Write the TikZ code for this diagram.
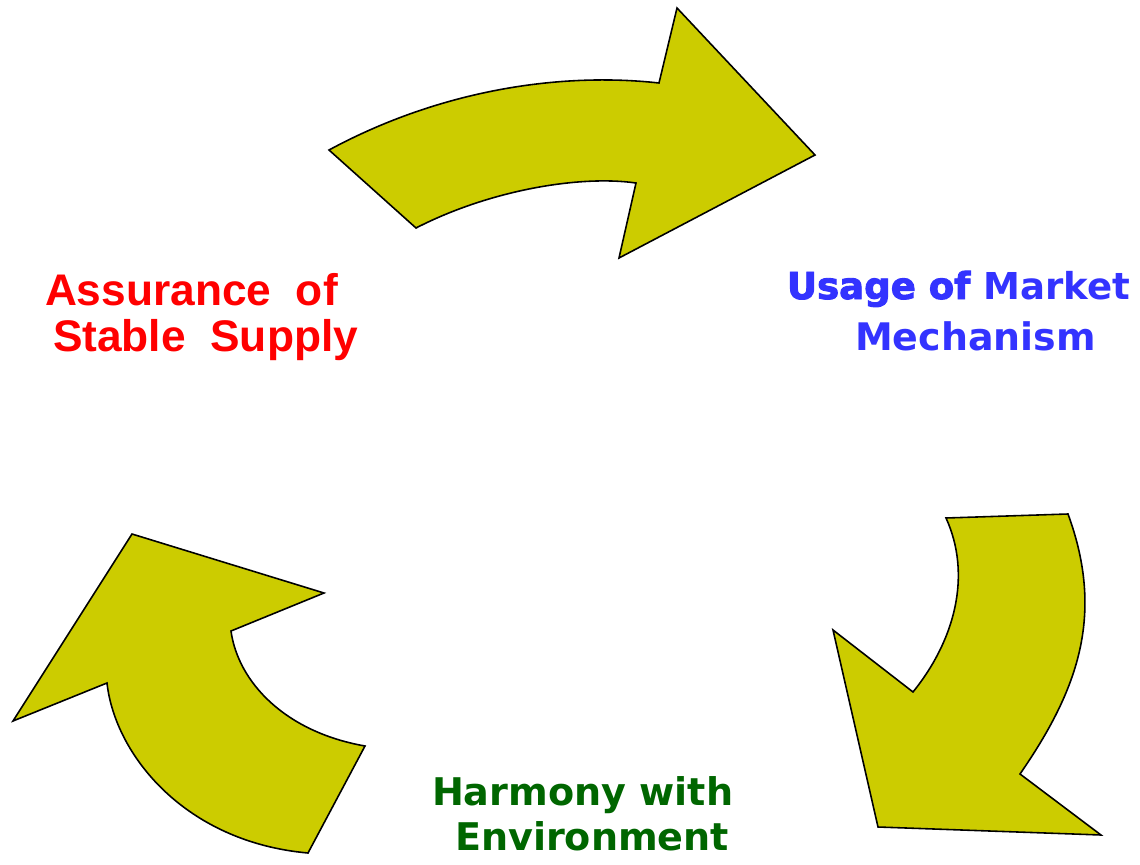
\documentclass[tikz,border=0pt]{standalone}
\usepackage{fontspec}
\newfontfamily\redfont{Liberation Sans}
\newfontfamily\dvfont{DejaVu Sans}
\newfontfamily\heavyfont{DejaVu Sans Bold}[FakeBold=2.5]
\definecolor{arrowfill}{RGB}{204,204,0}
\definecolor{labelred}{RGB}{255,0,0}
\definecolor{labelblue}{RGB}{51,51,255}
\definecolor{labelgreen}{RGB}{0,102,0}
\tikzset{
  bigarrow/.style={fill=arrowfill, draw=black, line width=0.9pt, line join=miter},
  lbl/.style={anchor=base west, inner sep=0pt, outer sep=0pt},
  redlbl/.style={lbl, text=labelred, font=\redfont\bfseries\fontsize{25.2}{27}\selectfont},
  bluelbl/.style={lbl, text=labelblue, font=\dvfont\bfseries\fontsize{21.1}{24}\selectfont},
  greenlbl/.style={lbl, text=labelgreen, font=\dvfont\bfseries\fontsize{21.7}{24}\selectfont}
}
\begin{document}
\begin{tikzpicture}[x=0.02cm, y=-0.02cm]
\useasboundingbox (0,0) rectangle (1140,865);
% top arrow
\draw[bigarrow] (329,150) .. controls (440,90) and (560,72) .. (659,83) -- (677,8) -- (815,155) -- (619,258) -- (636,183) .. controls (580,175) and (490,190) .. (416,228) -- cycle;
% right arrow
\draw[bigarrow] (946,518) -- (1068,514) .. controls (1105,615) and (1078,690) .. (1020,774) -- (1101,835) -- (878,827) -- (833,630) -- (913,692) .. controls (955,640) and (972,575) .. (946,518) -- cycle;
% left arrow
\draw[bigarrow] (132,534) -- (324,593) -- (231,631) .. controls (238,682) and (285,732) .. (365,746) -- (308,853) .. controls (185,842) and (115,755) .. (107,683) -- (13,721) -- cycle;
% labels
\node[redlbl] (assur1) at (45,305) {Assurance\ \ of};
\node[redlbl] (assur2) at (53,351) {Stable\ \ Supply};
\node[bluelbl] (usage1) at (787,299) {{\heavyfont Usage of} Market};
\node[bluelbl, font=\dvfont\bfseries\fontsize{21.6}{24}\selectfont] (usage2) at (855,350) {Mechanism};
\node[greenlbl] (harm1) at (432,805) {Harmony with};
\node[greenlbl] (harm2) at (455,850) {Environment};
\end{tikzpicture}
\end{document}
